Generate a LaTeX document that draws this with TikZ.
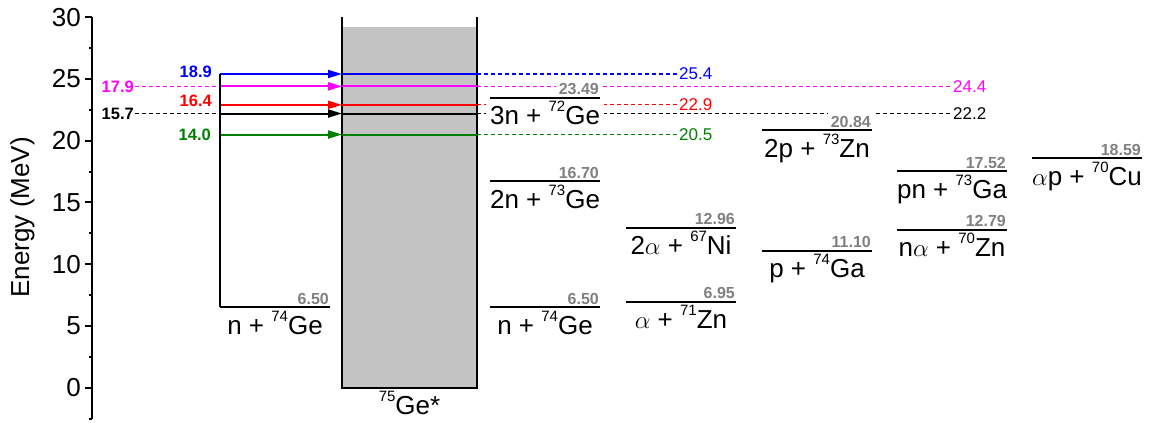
\documentclass[tikz,border=0pt]{standalone}
\usepackage{fontspec}
\setmainfont{Liberation Sans}
\usepackage{xcolor}
\usetikzlibrary{arrows.meta}
\definecolor{valgray}{RGB}{128,128,128}
\definecolor{boxgray}{RGB}{196,196,196}
\definecolor{dkgreen}{RGB}{0,128,0}
\definecolor{pmag}{RGB}{255,0,255}
\definecolor{pblue}{RGB}{0,0,255}
\definecolor{pred}{RGB}{255,0,0}
\newcommand{\nuc}[2]{\raisebox{13pt}{\fontsize{15}{15}\selectfont #1}#2}
\tikzset{
  level/.style={line width=2pt},
  beam/.style={line width=2pt},
  tail/.style={line width=1.2pt,dash pattern=on 4pt off 3pt},
  chan/.style={fill=white,inner xsep=4pt,inner ysep=1pt,anchor=base,yshift=-27pt,font=\fontsize{26}{30}\selectfont},
  value/.style={fill=white,inner xsep=3pt,inner ysep=5pt,anchor=base east,yshift=3pt,text=valgray,font=\bfseries\fontsize{16}{18}\selectfont},
  inval/.style={inner sep=1pt,anchor=east,font=\bfseries\fontsize{16.5}{18}\selectfont},
  outval/.style={inner sep=1pt,anchor=west,font=\fontsize{17}{19}\selectfont},
  ticklab/.style={inner sep=1pt,anchor=east,font=\fontsize{26}{30}\selectfont}
}
\begin{document}
\begin{tikzpicture}[x=1pt,y=12.35pt]
\useasboundingbox (0,-2.858) rectangle (1152,31.393);

% compound nucleus
\fill[boxgray] (342,0) rectangle (477,29.2);
\draw[level] (342,30) -- (342,0) -- (477,0) -- (477,30);
\node[chan,fill=none] (cn) at (409.5,0) {\nuc{75}{Ge*}};

% beams into 75Ge*
\foreach \E/\c/\xe [count=\i] in {25.4/pblue/678,24.4/pmag/952,22.9/pred/678,22.2/black/952,20.5/dkgreen/678}{
  \coordinate (in-\i) at (220,\E);
  \coordinate (cl-\i) at (342,\E);
  \coordinate (cr-\i) at (477,\E);
  \coordinate (ex-\i) at (\xe,\E);
  \draw[beam,\c,-{Triangle[length=14pt,width=8pt]}] (in-\i) -- (cl-\i);
  \draw[beam,\c] (cl-\i) -- (cr-\i);
  \draw[tail,\c] (cr-\i) -- (ex-\i);
  \node[outval,text=\c] (ex-lab-\i) at (ex-\i) {\E};
}
\node[inval,text=pblue,yshift=2pt] (b1) at (213,25.4) {18.9};
\node[inval,text=pred,yshift=4pt] (b3) at (213,22.9) {16.4};
\node[inval,text=dkgreen] (b5) at (212,20.5) {14.0};
\node[inval,text=pmag] (b2) at (135,24.4) {17.9};
\node[inval,text=black] (b4) at (135,22.2) {15.7};
\draw[tail,pmag] (b2.east) -- (in-2);
\draw[tail,black] (b4.east) -- (in-4);

% channels
\foreach \x/\E/\lab [count=\i] in {
  220/6.50/n + \nuc{74}{Ge},
  490/23.49/3n + \nuc{72}{Ge},
  490/16.70/2n + \nuc{73}{Ge},
  490/6.50/n + \nuc{74}{Ge},
  626/12.96/2$\alpha$ + \nuc{67}{Ni},
  626/6.95/$\alpha$ + \nuc{71}{Zn},
  762/20.84/2p + \nuc{73}{Zn},
  762/11.10/p + \nuc{74}{Ga},
  897/17.52/pn + \nuc{73}{Ga},
  897/12.79/n$\alpha$ + \nuc{70}{Zn},
  1032/18.59/$\alpha$p + \nuc{70}{Cu}}{
  \node[value] (val-\i) at (\x+112,\E) {\E};
  \node[chan] (ch-\i) at (\x+55,\E) {\lab};
}
\foreach \x/\E [count=\i] in {220/6.50,490/23.49,490/16.70,490/6.50,626/12.96,626/6.95,762/20.84,762/11.10,897/17.52,897/12.79,1032/18.59}
  \draw[level] (\x,\E) -- ++(110,0);
\draw[level] (in-1) -- (220,6.50);

% energy axis
\draw[level] (92,-2.5) -- (92,30);
\foreach \E in {0,5,...,30}{
  \draw[level] (85,\E) -- (92,\E);
  \node[ticklab] (t\E) at (82,\E) {\E};
}
\foreach \E in {-2.5,2.5,...,27.5}
  \draw[level] (88.5,\E) -- (92,\E);
\node[rotate=90,anchor=base,font=\fontsize{26}{30}\selectfont] (ylab) at (29,13.8) {Energy (MeV)};
\end{tikzpicture}
\end{document}
